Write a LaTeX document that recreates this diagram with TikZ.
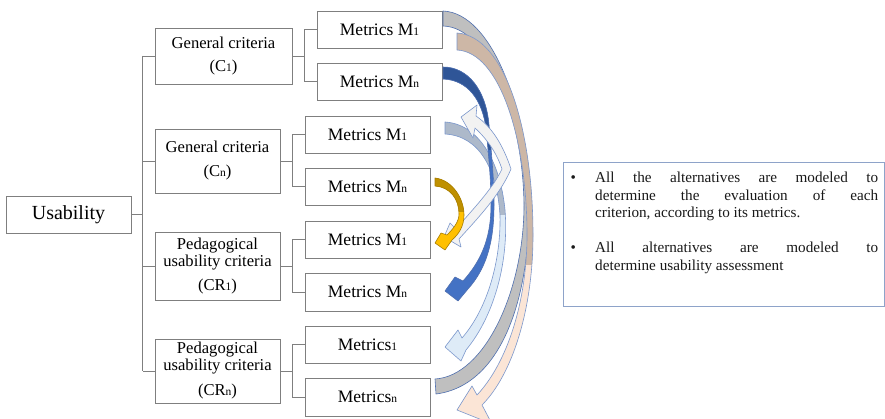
\documentclass[tikz,border=0pt]{standalone}
\usepackage{fontspec}
\setmainfont{Liberation Serif}
\usetikzlibrary{calc}
\definecolor{boxgray}{HTML}{7F7F7F}
\definecolor{ribline}{HTML}{4F6FAF}
\definecolor{riblight}{HTML}{7B97CC}
\definecolor{ribgray}{HTML}{BFBFBF}
\definecolor{peachF}{HTML}{FBE5D6}
\definecolor{peachB}{HTML}{CDB7A6}
\definecolor{blueF}{HTML}{4472C4}
\definecolor{blueB}{HTML}{2F5597}
\definecolor{lblueF}{HTML}{DEEBF7}
\definecolor{lblueB}{HTML}{ADB9CA}
\definecolor{whiteF}{HTML}{F2F2F2}
\definecolor{goldF}{HTML}{FFC000}
\definecolor{goldB}{HTML}{BF9000}
\definecolor{goldL}{HTML}{A67C00}
\definecolor{noteline}{HTML}{8EA3C9}
\newcommand\sub[1]{{\fontsize{11.5}{11.5}\selectfont #1}}
\newcommand\ribbon[5]{%
  \fill[#2] #1;
  \begin{scope}\clip (400,-10) rectangle (560,#4);\fill[#3] #1;\end{scope}
  \draw[#5, line width=0.6pt, line join=round] #1;}
\begin{document}
\begin{tikzpicture}[x=1pt,y=-1pt,
  box/.style={draw=boxgray, line width=0.9pt, fill=white, inner sep=0pt, align=center, text=black},
  metric/.style={box, minimum width=125pt, minimum height=37pt, font=\fontsize{17.5}{20}\selectfont},
  crit/.style={box, minimum width=125pt, font=\fontsize{16.6}{20}\selectfont},
  ped/.style={box, minimum width=125pt, font=\fontsize{16.6}{17}\selectfont},
  conn/.style={draw=boxgray, line width=0.9pt},
  note/.style={anchor=base west, inner sep=0pt, font=\fontsize{15.2}{17.5}\selectfont, text=black!90}
]
\useasboundingbox (0,0) rectangle (885,419);
\fill[white] (0,0) rectangle (885,419);

% tree boxes
\node[box, minimum width=125pt, minimum height=37pt, font=\fontsize{20}{24}\selectfont] (use) at (68.5,214.5) {Usability};
\node[crit, minimum width=137pt, minimum height=56pt] (c1) at (223.5,56) {General criteria\\[3pt](C\sub{1})};
\node[crit, minimum height=64pt] (cn) at (217.5,161) {General criteria\\[4pt](C\sub{n})};
\node[ped, minimum height=68pt] (cr1) at (217.5,266) {Pedagogical\\usability criteria\\[7pt](CR\sub{1})};
\node[ped, minimum height=64pt] (crn) at (217.5,371) {Pedagogical\\usability criteria\\[8pt](CR\sub{n})};

\node[metric] (m11) at (379.5,29.5) {Metrics M\sub{1}};
\node[metric] (m1n) at (379.5,81.5) {Metrics M\sub{n}};
\node[metric] (m21) at (367.5,134.5) {Metrics M\sub{1}};
\node[metric] (m2n) at (367.5,186.5) {Metrics M\sub{n}};
\node[metric] (m31) at (367.5,239.5) {Metrics M\sub{1}};
\node[metric, minimum height=38pt] (m3n) at (367.5,292) {Metrics M\sub{n}};
\node[metric] (m41) at (367.5,344.5) {Metrics\sub{1}};
\node[metric, minimum height=38pt] (m4n) at (367.5,397) {Metrics\sub{n}};

% connectors
\draw[conn] (use.east) -- ++(12,0);
\foreach \n in {c1,cn,cr1,crn} \draw[conn] (\n.west) -- ++(-12,0);
\draw[conn] ($(c1.west)+(-12,0)$) -- ($(crn.west)+(-12,0)$);
\draw[conn] (c1.east) -- ++(13,0);
\draw[conn] (m11.west) -- ++(-12,0) |- (m1n.west);
\draw[conn] (cn.east) -- ++(13,0);
\draw[conn] (m21.west) -- ++(-12,0) |- (m2n.west);
\draw[conn] (cr1.east) -- ++(13,0);
\draw[conn] (m31.west) -- ++(-12,0) |- (m3n.west);
\draw[conn] (crn.east) -- ++(13,0);
\draw[conn] (m41.west) -- ++(-12,0) |- (m4n.west);

% curved ribbons
\ribbon{(443,11) .. controls (492,13) and (528,110) .. (529,205) .. controls (530,290) and (505,385) .. (436,394) -- (435,379) .. controls (485,376) and (524,290) .. (524,205) .. controls (523,115) and (488,27) .. (443,26) -- cycle}{ribgray}{ribgray}{0}{ribline}
\ribbon{(457,33) .. controls (505,36) and (533,130) .. (533,235) .. controls (533,310) and (512,375) .. (482,405) -- (492,424) -- (457,410) -- (472,386) -- (477,395) .. controls (508,362) and (527,300) .. (527,235) .. controls (527,140) and (500,52) .. (457,50) -- cycle}{peachF}{peachB}{265}{riblight}
\ribbon{(445,122) .. controls (478,124) and (500,160) .. (505,210) .. controls (509,260) and (495,315) .. (466,350) -- (461,361) -- (445,347) -- (458,330) -- (462,338) .. controls (488,308) and (501,260) .. (500,215) .. controls (497,170) and (480,136) .. (445,134) -- cycle}{lblueF}{lblueB}{215}{riblight}
\ribbon{(443,67) .. controls (468,67) and (486,90) .. (489,125) .. controls (492,160) and (494,180) .. (494,205) .. controls (494,245) and (485,270) .. (468,289) -- (458,301) -- (445,291) -- (455,277) -- (463,281) .. controls (480,262) and (491,240) .. (491,205) .. controls (491,180) and (489,160) .. (486,128) .. controls (482,100) and (468,80) .. (443,79) -- cycle}{blueF}{blueB}{150}{ribline}
\ribbon{(475,128) .. controls (488,140) and (497,154) .. (502,169) .. controls (492,190) and (472,210) .. (456,229) -- (450,223) -- (444,237) -- (461,247) -- (459,239) .. controls (478,218) and (500,195) .. (511,169) .. controls (503,145) and (492,127) .. (476,116) -- (477,105) -- (461,117) -- (473,138) -- cycle}{whiteF}{whiteF}{0}{riblight}
\ribbon{(435,178) .. controls (452,180) and (464,198) .. (464,215) .. controls (464,226) and (459,234) .. (452,240) -- (445,250) -- (435,243) -- (441,233) -- (447,235) .. controls (453,229) and (459,222) .. (459,214) .. controls (459,199) and (450,187) .. (435,186) -- cycle}{goldF}{goldB}{212}{goldL}

% note box
\node[draw=noteline, line width=1pt, fill=white, minimum width=321pt, minimum height=144pt, inner sep=0pt, anchor=north west] (tb) at (563,162) {};
\node[note] (b1) at ($(tb.north west)+(7.5,21)$) {•};
\node[note] (l1) at ($(tb.north west)+(32,21)$) {\makebox[283pt][s]{All the alternatives are modeled to}};
\node[note] (l2) at ($(tb.north west)+(32,38.5)$) {\makebox[283pt][s]{determine the evaluation of each}};
\node[note] (l3) at ($(tb.north west)+(32,56)$) {criterion, according to its metrics.};
\node[note] (b2) at ($(tb.north west)+(7.5,91)$) {•};
\node[note] (l4) at ($(tb.north west)+(32,91)$) {\makebox[283pt][s]{All alternatives are modeled to}};
\node[note] (l5) at ($(tb.north west)+(32,108.5)$) {determine usability assessment};
\end{tikzpicture}
\end{document}
